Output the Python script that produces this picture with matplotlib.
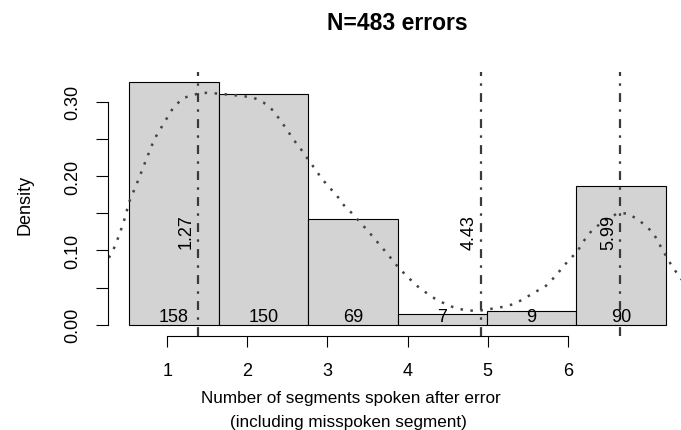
import numpy as np
import matplotlib
matplotlib.use("Agg")
import matplotlib.pyplot as plt

plt.rcParams['font.family'] = ['Liberation Sans', 'DejaVu Sans']

# histogram of segments spoken after an error
bins = [1, 2, 3, 4, 5, 6]
counts = [158, 150, 69, 7, 9, 90]

# dotted density curve
curve_x = [0.27, 0.34, 0.43, 0.50, 0.60, 0.69, 0.78, 0.88, 0.99, 1.10,
           1.27, 1.36, 1.49, 1.66, 1.88, 2.00, 2.11, 2.26, 2.33, 2.42,
           2.49, 2.58, 2.65, 2.72, 2.82, 2.89, 2.99, 3.08, 3.17, 3.34,
           3.43, 3.51, 3.60, 3.71, 3.81, 3.92, 4.05, 4.16, 4.29, 4.42,
           4.53, 4.68, 4.81, 4.93, 5.04, 5.15, 5.24, 5.32, 5.41, 5.51,
           5.58, 5.67, 5.79, 5.95, 6.07, 6.20, 6.36, 6.46, 6.57, 6.66, 6.70]
curve_y = [0.090, 0.106, 0.136, 0.166, 0.195, 0.223, 0.250, 0.270, 0.292, 0.305,
           0.311, 0.312, 0.311, 0.309, 0.306, 0.299, 0.288, 0.263, 0.250, 0.236,
           0.224, 0.209, 0.197, 0.187, 0.174, 0.162, 0.150, 0.138, 0.126, 0.102,
           0.089, 0.077, 0.066, 0.053, 0.044, 0.035, 0.027, 0.022, 0.019, 0.019,
           0.021, 0.024, 0.028, 0.036, 0.044, 0.051, 0.062, 0.073, 0.086, 0.098,
           0.112, 0.126, 0.138, 0.149, 0.150, 0.141, 0.124, 0.102, 0.079, 0.064, 0.058]

# marked values (vertical dot-dash lines)
marks = [1.27, 4.43, 5.99]

# the x axis in the original sits off the bar centres
xtick_pos = [0.922, 1.815, 2.714, 3.614, 4.510, 5.409]
xtick_labels = ['1', '2', '3', '4', '5', '6']
ytick_pos = [0.0, 0.05, 0.10, 0.15, 0.20, 0.25, 0.30]
ytick_labels = ['0.00', '', '0.10', '', '0.20', '', '0.30']

W, H = 681, 431
fig = plt.figure(figsize=(W / 100, H / 100), dpi=100)
ax = fig.add_axes([108 / W, (H - 336.5) / H, (687 - 108) / W, (336.5 - 73) / H])

density = np.array(counts) / (sum(counts) * 1.0)
ax.bar(bins, density, width=1.0, color='#D3D3D3', edgecolor='black', linewidth=0.8, zorder=1)

ax.plot(curve_x, curve_y, color='#444444', linewidth=1.8,
        linestyle=(0, (1.0, 3.0)), zorder=2)

for m in marks:
    ax.axvline(m, color='#3a3a3a', linewidth=1.6,
               linestyle=(0, (4, 3.3, 1.1, 3.3)), zorder=3)
    ax.annotate(f"{m:.2f}", xy=(m, 0.126), xytext=(-8.4, 0), textcoords='offset points',
                rotation=90, ha='center', va='center', fontsize=13, zorder=4)

for b, c in zip(bins, counts):
    ax.text(b, 0.0054, str(c), ha='center', va='baseline', fontsize=13, zorder=4)

ax.set_xlim(0.26, 6.74)
ax.set_ylim(-0.0145, 0.3400)

for s in ['top', 'right']:
    ax.spines[s].set_visible(False)
ax.spines['left'].set_bounds(0, 0.30)
ax.spines['bottom'].set_bounds(xtick_pos[0], xtick_pos[-1])
ax.spines['left'].set_linewidth(0.8)
ax.spines['bottom'].set_linewidth(0.8)

ax.set_xticks(xtick_pos)
ax.set_xticklabels(xtick_labels, fontsize=13)
ax.set_yticks(ytick_pos)
ax.set_yticklabels(ytick_labels, fontsize=13, rotation=90, va='center', ha='center')
ax.tick_params(axis='x', length=8.2, width=0.8, pad=11)
ax.tick_params(axis='y', length=8.5, width=0.8, pad=16.8)

fig.text(397 / W, 1 - 24 / H, "N=483 errors", ha='center', va='center',
         fontsize=16.5, fontweight='bold')
fig.text(25 / W, 1 - 205 / H, "Density", rotation=90, ha='center', va='center', fontsize=13)
fig.text(350.5 / W, 1 - 403.3 / H, "Number of segments spoken after error",
         ha='center', va='baseline', fontsize=12.3)
fig.text(348 / W, 1 - 426.7 / H, "(including misspoken segment)",
         ha='center', va='baseline', fontsize=12.3)

fig.savefig("out.png", dpi=100)
